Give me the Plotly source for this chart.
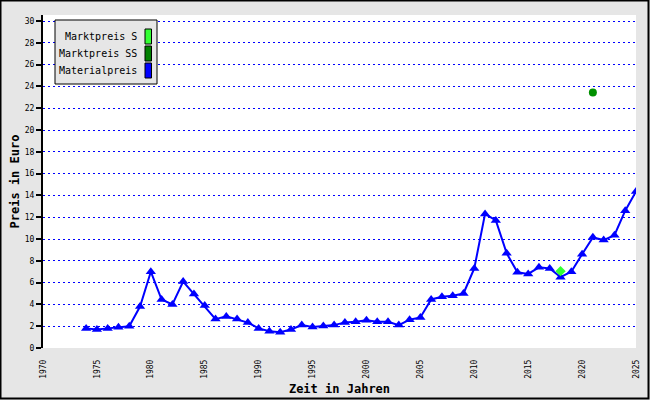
import plotly.graph_objects as go

# ---- data ----
material_years = list(range(1974, 2026))
material_prices = [
    1.8, 1.7, 1.8, 1.9, 2.0, 3.8, 7.0, 4.45, 4.0, 6.1,
    4.95, 3.9, 2.65, 2.9, 2.65, 2.33, 1.8, 1.54, 1.45, 1.7,
    2.1, 1.93, 2.02, 2.1, 2.35, 2.4, 2.55, 2.4, 2.4, 2.1,
    2.6, 2.8, 4.45, 4.7, 4.8, 5.0, 7.3, 12.3, 11.7, 8.7,
    6.95, 6.8, 7.4, 7.3, 6.5, 7.0, 8.6, 10.15, 9.9, 10.35,
    12.6, 14.35,
]
markt_s_years = [2018]
markt_s_prices = [7.05]
markt_ss_years = [2021]
markt_ss_prices = [23.45]

x_tick_years = list(range(1970, 2025, 2))
x_label_years = list(range(1970, 2026, 5))
x_label_text = [str(y) for y in x_label_years]
y_tick_vals = list(range(0, 31, 2))
y_tick_text = [str(v) for v in y_tick_vals]

legend_names = ["Marktpreis S", "Marktpreis SS", "Materialpreis"]
legend_colors = ["#33ff33", "#008000", "#0000ff"]

FONT = "DejaVu Sans Mono"
BG = "#e6e6e6"

fig = go.Figure()
fig.add_trace(go.Scatter(
    x=material_years, y=material_prices, mode="lines+markers",
    name="Materialpreis", line=dict(color="#0000ff", width=2),
    marker=dict(symbol="triangle-up", size=9, color="#0000ff"),
    showlegend=False, xaxis="x2",
))
fig.add_trace(go.Scatter(
    x=markt_s_years, y=markt_s_prices, mode="markers", name="Marktpreis S",
    marker=dict(symbol="diamond", size=8, color="#33ff33"),
    showlegend=False, xaxis="x2",
))
fig.add_trace(go.Scatter(
    x=markt_ss_years, y=markt_ss_prices, mode="markers", name="Marktpreis SS",
    marker=dict(symbol="circle", size=8, color="#009000"),
    showlegend=False, xaxis="x2",
))

# plot area geometry (px) used for the hand-made legend and frame
L, R, T, B, W, H = 43, 14, 15, 52, 650, 400
pw, ph = W - L - R, H - T - B

def px(x):
    return (x - L) / pw

def py(y):
    return 1 - (y - T) / ph

shapes = [
    # outer frame
    dict(type="rect", xref="paper", yref="paper",
         x0=px(0.5), x1=px(648.5), y0=py(0.5), y1=py(398.5),
         line=dict(color="black", width=2), fillcolor="rgba(0,0,0,0)", layer="above"),
    # legend box
    dict(type="rect", xref="paper", yref="paper",
         x0=px(55), x1=px(157), y0=py(20), y1=py(84),
         line=dict(color="black", width=1), fillcolor=BG, layer="above"),
]
annotations = []
row_centers = [36.5, 53.5, 70.5]
for name, col, yc in zip(legend_names, legend_colors, row_centers):
    annotations.append(dict(
        xref="paper", yref="paper", x=px(139), y=py(yc), text=name,
        showarrow=False, xanchor="right", yanchor="middle",
        font=dict(family=FONT, size=10, color="black"),
    ))
    shapes.append(dict(
        type="rect", xref="paper", yref="paper",
        x0=px(145), x1=px(151.5), y0=py(yc - 7.5), y1=py(yc + 7.5),
        line=dict(color="black", width=1), fillcolor=col, layer="above",
    ))

fig.update_layout(
    width=W, height=H,
    margin=dict(l=L, r=R, t=T, b=B, pad=0, autoexpand=False),
    paper_bgcolor=BG, plot_bgcolor="white",
    font=dict(family=FONT, color="black"),
    showlegend=False,
    xaxis=dict(
        range=[1970, 2025], tickmode="array", tickvals=x_tick_years,
        showticklabels=False, ticks="outside", ticklen=6, tickwidth=1.5,
        tickcolor="black", showline=True, linecolor="black", linewidth=2,
        showgrid=False, zeroline=False, fixedrange=True, automargin=False,
    ),
    xaxis2=dict(
        range=[1970, 2025], overlaying="x", anchor="y", side="bottom",
        tickmode="array", tickvals=x_label_years, ticktext=x_label_text,
        ticks="", tickangle=-90, tickfont=dict(family=FONT, size=8),
        ticklabelstandoff=9, automargin=False,
        showline=False, showgrid=False, zeroline=False,
        title=dict(text="<b>Zeit in Jahren</b>", font=dict(family=FONT, size=12), standoff=6),
    ),
    yaxis=dict(
        range=[0, 30.55], tickmode="array", tickvals=y_tick_vals, ticktext=y_tick_text,
        ticks="outside", ticklen=5, tickwidth=1.5, tickcolor="black",
        tickfont=dict(family=FONT, size=8), automargin=False,
        showline=True, linecolor="black", linewidth=2,
        showgrid=True, gridcolor="#0000ff", griddash="2px,3px", gridwidth=1,
        zeroline=False,
        title=dict(text="<b>Preis in Euro</b>", font=dict(family=FONT, size=12), standoff=3),
    ),
    shapes=shapes, annotations=annotations,
)

fig.write_html("out.html", config={"displayModeBar": False},
               post_script="document.body.style.margin='0';")
